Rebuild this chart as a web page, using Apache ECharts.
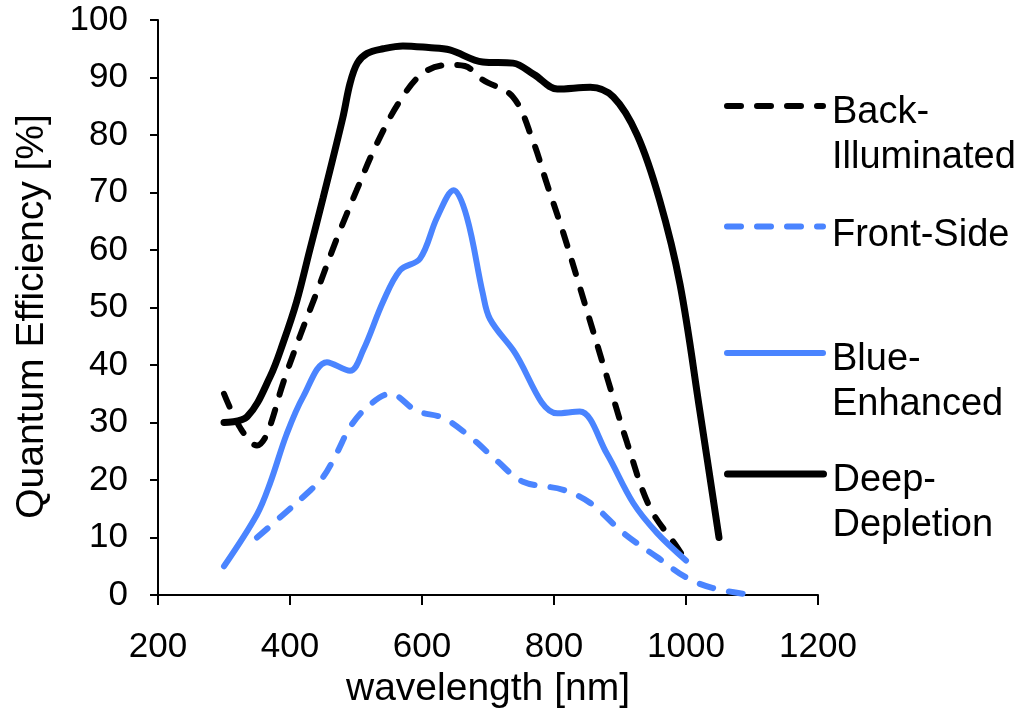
<!DOCTYPE html>
<html>
<head>
<meta charset="utf-8">
<script src="https://cdn.jsdelivr.net/npm/echarts@6/dist/echarts.min.js"></script>
<style>
  html, body { margin: 0; padding: 0; background: #fff; }
  #chart { width: 1018px; height: 716px; }
</style>
</head>
<body>
<div id="chart"></div>
<script>
  // wavelength [nm] / quantum efficiency [%]
  var backX  = [300, 325, 350, 365, 390, 415, 440, 471, 501, 532, 567, 602, 642, 665, 692, 738, 768, 789, 814, 839, 880, 911, 945, 986, 1000];
  var backY  = [35, 29, 26, 28, 37, 45, 52.5, 62, 70.4, 78.6, 86, 90.8, 92.2, 92, 89.6, 86.6, 79, 71.6, 63, 53.6, 38, 26.4, 15.3, 8.4, 6];

  var frontX = [350, 390, 426, 450, 471, 491, 517, 552, 592, 632, 673, 714, 753, 814, 855, 905, 956, 1001, 1041, 1100];
  var frontY = [10, 14, 17.7, 20.5, 24.7, 29.2, 32.7, 35, 32, 30.8, 27.5, 23.3, 19.7, 18.3, 16, 10.8, 6.6, 3, 1.2, 0];

  var blueX  = [300, 350, 370, 395, 420, 456, 491, 511, 541, 567, 597, 623, 648, 668, 692, 703, 738, 805, 839, 880, 920, 956, 1000];
  var blueY  = [5, 14, 19.5, 28, 34.5, 40.5, 39, 42.6, 51, 56.5, 58.5, 65.7, 70.4, 65.7, 52.5, 48, 42.6, 31.6, 31.9, 24.6, 16, 10.8, 6];

  var deepX  = [300, 335, 370, 390, 410, 430, 450, 480, 491, 502, 517, 541, 571, 610, 642, 692, 738, 770, 805, 855, 890, 926, 960, 991, 1021, 1050];
  var deepY  = [30, 31, 38, 44, 51, 60, 69, 83, 89, 92.5, 94.2, 95, 95.5, 95.2, 94.8, 92.7, 92.5, 90.5, 88, 88.3, 86.6, 80, 68.7, 54, 32, 10];

  var xTicks = [200, 400, 600, 800, 1000, 1200];

  var BLUE = '#4a84ff';
  var FONT = 'Liberation Sans';

  function pairs(xs, ys) {
    return xs.map(function (x, i) { return [x, ys[i]]; });
  }

  var chart = echarts.init(document.getElementById('chart'));

  // one legend per entry so each can sit where the original has it;
  // a spacer line on top pulls the icon up to the first text line
  function legendAt(name, lines, top, spacer, width) {
    return {
      data: [name],
      left: 724,
      top: top,
      padding: 0,
      itemWidth: 96,
      itemHeight: 14,
      selectedMode: false,
      formatter: function () {
        return '{s| }\n' + lines.map(function (l) { return '{t|' + l + '}'; }).join('\n');
      },
      itemStyle: { color: 'rgba(0,0,0,0)', borderWidth: 0, opacity: 0 },
      lineStyle: { width: width, cap: 'round' },
      textStyle: {
        color: '#000',
        rich: {
          s: { fontSize: 10, lineHeight: spacer },
          t: { fontFamily: FONT, fontSize: 38, lineHeight: 45, color: '#000', padding: [0, 0, 0, 4] }
        }
      }
    };
  }

  chart.setOption({
    animation: false,
    textStyle: { fontFamily: FONT },
    grid: { left: 158, right: 200, top: 20, bottom: 121 },
    legend: [
      legendAt('Back-Illuminated', ['Back-', 'Illuminated'], 56, 58, 6),
      legendAt('Front-Side', ['Front-Side'], 199, 18, 6),
      legendAt('Blue-Enhanced', ['Blue-', 'Enhanced'], 303, 58, 6),
      legendAt('Deep-Depletion', ['Deep-', 'Depletion'], 424, 58, 7)
    ],
    xAxis: {
      type: 'value',
      min: xTicks[0],
      max: xTicks[xTicks.length - 1],
      interval: 200,
      name: 'wavelength [nm]',
      nameLocation: 'middle',
      nameGap: 75,
      nameTextStyle: { fontFamily: FONT, fontSize: 39, color: '#000' },
      axisLine: { lineStyle: { color: '#000', width: 2 } },
      axisTick: { length: 10, lineStyle: { color: '#000', width: 2 } },
      axisLabel: {
        fontFamily: FONT, fontSize: 35, color: '#000', margin: 35,
        formatter: function (v) { return String(v); }
      },
      splitLine: { show: false }
    },
    yAxis: {
      type: 'value',
      min: 0,
      max: 100,
      interval: 10,
      name: 'Quantum Efficiency [%]',
      nameLocation: 'middle',
      nameGap: 106,
      nameTextStyle: { fontFamily: FONT, fontSize: 39, color: '#000', padding: [0, 18, 0, 0] },
      axisLine: { show: true, lineStyle: { color: '#000', width: 2 } },
      axisTick: { show: true, length: 8, lineStyle: { color: '#000', width: 2 } },
      axisLabel: { fontFamily: FONT, fontSize: 35, color: '#000', margin: 30 },
      splitLine: { show: false }
    },
    series: [
      {
        name: 'Back-Illuminated', type: 'line', smooth: 0.35, symbol: 'none',
        data: pairs(backX, backY),
        lineStyle: { color: '#000', width: 6, type: [14, 16], cap: 'round' },
        itemStyle: { color: '#000' }
      },
      {
        name: 'Front-Side', type: 'line', smooth: 0.35, symbol: 'none',
        data: pairs(frontX, frontY),
        lineStyle: { color: BLUE, width: 6, type: [14, 16], cap: 'round' },
        itemStyle: { color: BLUE }
      },
      {
        name: 'Blue-Enhanced', type: 'line', smooth: 0.35, symbol: 'none',
        data: pairs(blueX, blueY),
        lineStyle: { color: BLUE, width: 6, cap: 'round' },
        itemStyle: { color: BLUE }
      },
      {
        name: 'Deep-Depletion', type: 'line', smooth: 0.35, symbol: 'none',
        data: pairs(deepX, deepY),
        lineStyle: { color: '#000', width: 7, cap: 'round' },
        itemStyle: { color: '#000' }
      }
    ]
  });
</script>
</body>
</html>
